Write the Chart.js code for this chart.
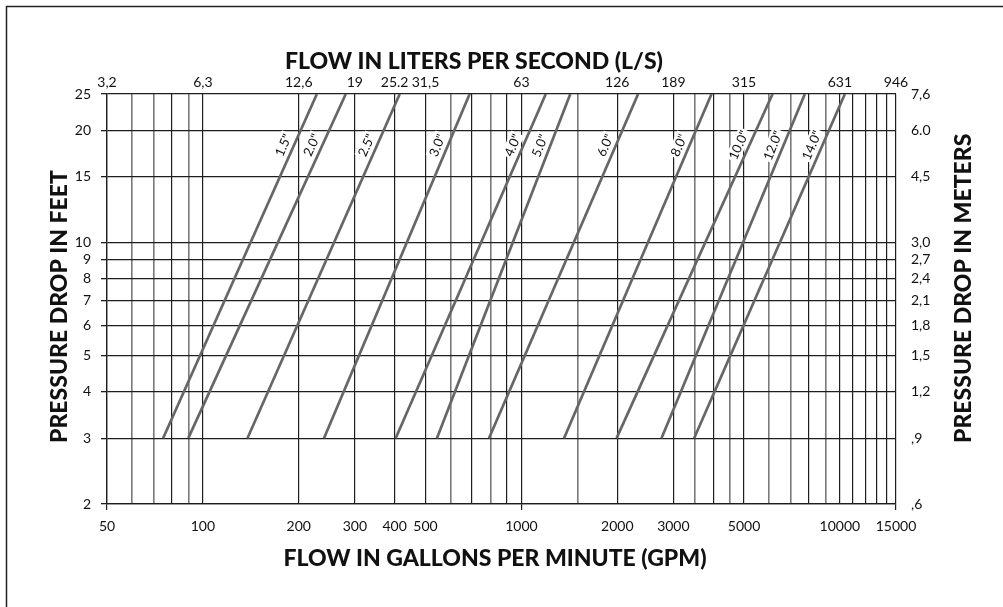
<!DOCTYPE html>
<html><head><meta charset="utf-8">
<script src="https://cdn.jsdelivr.net/npm/chart.js@4.4.0/dist/chart.umd.min.js"></script>
<style>html,body{margin:0;padding:0;background:#fff;}#wrap{width:1003px;height:607px;}</style>
</head><body><div id="wrap"><canvas id="c" width="1003" height="607"></canvas></div>
<script>
// ---- data ----
const pipeSizes = ['1.5"','2.0"','2.5"','3.0"','4.0"','5.0"','6.0"','8.0"','10.0"','12.0"','14.0"'];
const flowAt3ft = [75, 90, 138, 240, 403, 543, 791, 1361, 1990, 2753, 3486];
const flowAt25ft = [228, 281, 415, 688, 1193, 1424, 2325, 3953, 6146, 7762, 10366];
const pressureLow = 3;
const pressureHigh = 25;
const labelFeet = 17.8;
const gpmGrid = [50,60,70,80,90,100,200,300,400,500,600,700,800,900,1000,1500,2000,3000,3500,4000,4500,5000,6000,7000,8000,9000,10000,11000,12000,13000,14000,15000];
const gpmMinorGrid = [60,70,90,600,800,1500,3500,4500,6000,7000,9000];
const gpmLabels = [50,100,200,300,400,500,1000,2000,3000,5000,10000,15000];
const gpmTickMarks = [50,1000,15000];
const lpsTickValues = [50,100,200,300,400,500,1000,2000,3000,5000,10000,15000];
const lpsLabels = ['3,2','6,3','12,6','19','25.2','31,5','63','126','189','315','631','946'];
const feetTicks = [2,3,4,5,6,7,8,9,10,15,20,25];
const meterLabels = [',6',',9','1,2','1,5','1,8','2,1','2,4','2,7','3,0','4,5','6.0','7,6'];

const DARK = '#1e1e1e', GRAY = '#7a7a7a', LINE = '#666666';
const FONT = 'Lato';
Chart.defaults.font.family = FONT;

const datasets = pipeSizes.map((s, i) => ({
  label: s,
  data: [{x: flowAt3ft[i], y: pressureLow}, {x: flowAt25ft[i], y: pressureHigh}],
  borderColor: LINE, borderWidth: 2.7, pointRadius: 0, fill: false, tension: 0
}));

const decor = {
  id: 'decor',
  beforeDraw(chart) {
    const c = chart.ctx; c.save(); c.fillStyle = '#fff'; c.fillRect(0, 0, chart.width, chart.height); c.restore();
  },
  afterDatasetsDraw(chart) {
    const c = chart.ctx, xs = chart.scales.x, ys = chart.scales.y;
    c.save();
    c.font = '13px ' + FONT;
    c.textAlign = 'center'; c.textBaseline = 'middle';
    pipeSizes.forEach((lab, i) => {
      const x0 = xs.getPixelForValue(flowAt3ft[i]), y0 = ys.getPixelForValue(pressureLow);
      const x1 = xs.getPixelForValue(flowAt25ft[i]), y1 = ys.getPixelForValue(pressureHigh);
      const ang = Math.atan2(y1 - y0, x1 - x0);
      const t = (Math.log(labelFeet) - Math.log(pressureLow)) / (Math.log(pressureHigh) - Math.log(pressureLow));
      const px = x0 + (x1 - x0) * t, py = y0 + (y1 - y0) * t;
      const dx = Math.cos(ang), dy = Math.sin(ang);
      const nx = dy, ny = -dx;
      const cx = px + nx * 10, cy = py + ny * 10;
      c.save(); c.translate(cx, cy); c.rotate(ang);
      const w = c.measureText(lab).width;
      c.fillStyle = '#fff'; c.fillRect(-w / 2 - 1.5, -7, w + 3, 14);
      c.fillStyle = '#111'; c.fillText(lab, 0, 0.5);
      c.restore();
    });
    c.restore();
  },
  afterDraw(chart) {
    const c = chart.ctx;
    c.save();
    c.strokeStyle = '#222'; c.lineWidth = 1.5;
    c.beginPath(); c.moveTo(1003, 6.5); c.lineTo(6.5, 6.5); c.lineTo(6.5, 607); c.stroke();
    c.fillStyle = '#111'; c.font = '900 23px ' + FONT; c.textBaseline = 'middle'; c.textAlign = 'center';
    c.fillText('FLOW IN LITERS PER SECOND (L/S)', 474, 62);
    c.fillText('FLOW IN GALLONS PER MINUTE (GPM)', 495, 559);
    c.textAlign = 'left';
    c.save(); c.translate(60, 443); c.rotate(-Math.PI / 2); c.fillText('PRESSURE DROP IN FEET', 0, 0); c.restore();
    c.save(); c.translate(964, 443); c.rotate(-Math.PI / 2); c.fillText('PRESSURE DROP IN METERS', 0, 0); c.restore();
    c.restore();
  }
};

new Chart(document.getElementById('c'), {
  type: 'line',
  data: { datasets },
  options: {
    responsive: false, animation: false, devicePixelRatio: 1,
    layout: { padding: 0 },
    plugins: { legend: { display: false }, tooltip: { enabled: false } },
    scales: {
      x: {
        type: 'logarithmic', position: 'bottom', min: 50, max: 15000,
        afterBuildTicks: s => { s.ticks = gpmGrid.map(v => ({ value: v })); },
        afterFit: s => { s.height = 103; },
        ticks: { autoSkip: false, maxRotation: 0, minRotation: 0, padding: 8, color: '#111', font: { size: 14 },
          callback: v => gpmLabels.includes(v) ? String(v) : '' },
        grid: {
          color: ctx => gpmMinorGrid.includes(ctx.tick && ctx.tick.value) ? GRAY : DARK,
          lineWidth: ctx => gpmMinorGrid.includes(ctx.tick && ctx.tick.value) ? 1.6 : 1.2,
          tickColor: ctx => gpmTickMarks.includes(ctx.tick && ctx.tick.value) ? DARK : 'rgba(0,0,0,0)',
          tickLength: 6, drawTicks: true
        },
        border: { display: true, color: DARK, width: 1.3 }
      },
      x2: {
        type: 'logarithmic', position: 'top', min: 50, max: 15000,
        afterBuildTicks: s => { s.ticks = lpsTickValues.map(v => ({ value: v })); },
        afterFit: s => { s.height = 94; },
        ticks: { autoSkip: false, maxRotation: 0, minRotation: 0, padding: 3, color: '#111', font: { size: 14 },
          callback: v => { const k = lpsTickValues.indexOf(v); return k >= 0 ? lpsLabels[k] : ''; } },
        grid: { display: false, drawTicks: false },
        border: { display: false }
      },
      y: {
        type: 'logarithmic', position: 'left', min: 2, max: 25,
        afterBuildTicks: s => { s.ticks = feetTicks.map(v => ({ value: v })); },
        afterFit: s => { s.width = 107; },
        ticks: { autoSkip: false, padding: 10, color: '#111', font: { size: 14 },
          callback: v => String(v) },
        grid: { color: DARK, lineWidth: 1.3, tickLength: 6, drawTicks: true },
        border: { display: true, color: DARK, width: 1.3 }
      },
      y2: {
        type: 'logarithmic', position: 'right', min: 2, max: 25,
        afterBuildTicks: s => { s.ticks = feetTicks.map(v => ({ value: v })); },
        afterFit: s => { s.width = 107; },
        ticks: { autoSkip: false, padding: 15, color: '#111', font: { size: 14 },
          callback: v => { const k = feetTicks.indexOf(v); return k >= 0 ? meterLabels[k] : ''; } },
        grid: { display: false, drawTicks: false },
        border: { display: false }
      }
    }
  },
  plugins: [decor]
});
</script></body></html>
